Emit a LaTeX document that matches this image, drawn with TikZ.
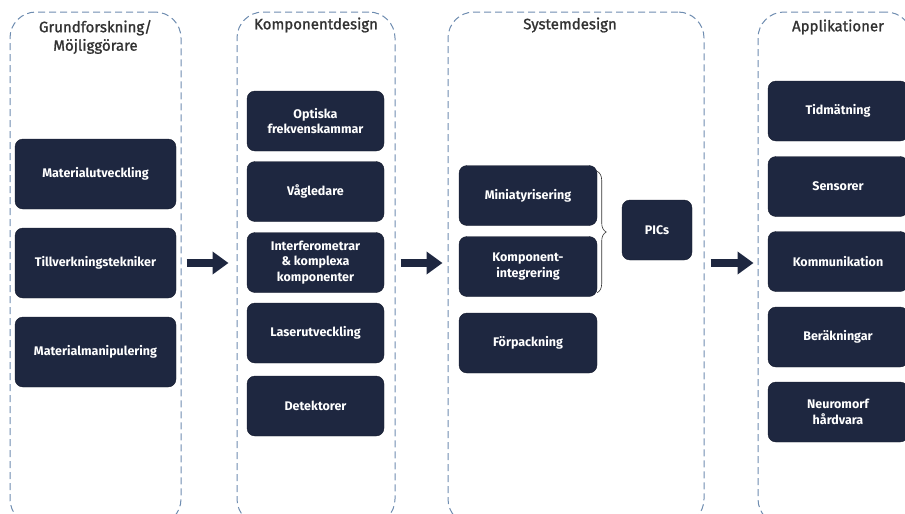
\documentclass[tikz,border=0pt]{standalone}
\usepackage{fontspec}
\setmainfont{Fira Sans}
\newfontfamily\medfont[FakeBold=1.3]{Fira Sans}
\usetikzlibrary{arrows.meta,decorations.pathreplacing}

\definecolor{navy}{RGB}{30,39,64}
\definecolor{dashblue}{RGB}{110,140,176}
\definecolor{ttlgray}{RGB}{50,50,50}

\tikzset{
  col/.style={draw=dashblue, dash pattern=on 7pt off 4pt, line width=1pt, rounded corners=26pt, inner sep=0pt},
  blk/.style={fill=navy, draw=navy!70!black, rounded corners=8pt, text=white, align=center,
    font=\bfseries\fontsize{12.5}{15.5}\selectfont, inner sep=0pt},
  ttl/.style={text=ttlgray, align=center, font=\medfont\fontsize{15}{18.5}\selectfont},
  flow/.style={draw=navy, line width=8pt, -{Triangle[length=16pt,width=22pt]}},
}

\begin{document}
\begin{tikzpicture}[x=1pt,y=1pt,yscale=-1]
\useasboundingbox (0,0) rectangle (905,514);

% columns
\node[col, minimum width=171pt, minimum height=513pt] (c1) at (95.5,268.5) {};
\node[col, minimum width=158pt, minimum height=513pt] (c2) at (316,268.5) {};
\node[col, minimum width=256pt, minimum height=513pt] (c3) at (576,268.5) {};
\node[col, minimum width=154pt, minimum height=513pt] (c4) at (835,268.5) {};

% titles
\node[ttl] (t1) at (95.5,37) {Grundforskning/\\Möjliggörare};
\node[ttl] (t2) at (316,25) {Komponentdesign};
\node[ttl] (t3) at (570,25) {Systemdesign};
\node[ttl] (t4) at (838,27) {Applikationer};

% Grundforskning
\node[blk, minimum width=161pt, minimum height=70pt] (mat) at (95.5,174) {Materialutveckling};
\node[blk, minimum width=161pt, minimum height=70pt] (till) at (95.5,263) {Tillverkningstekniker};
\node[blk, minimum width=161pt, minimum height=70pt] (mani) at (95.5,352) {Materialmanipulering};

% Komponentdesign
\node[blk, minimum width=137pt, minimum height=60pt] (opt) at (315.5,121) {Optiska\\frekvenskammar};
\node[blk, minimum width=137pt, minimum height=60pt] (vag) at (315.5,191.5) {Vågledare};
\node[blk, minimum width=137pt, minimum height=60pt] (intf) at (315.5,262.5) {Interferometrar\\\& komplexa\\komponenter};
\node[blk, minimum width=137pt, minimum height=60pt] (las) at (315.5,333) {Laserutveckling};
\node[blk, minimum width=137pt, minimum height=60pt] (det) at (315.5,406) {Detektorer};

% Systemdesign
\node[blk, minimum width=138pt, minimum height=60pt] (mini) at (528,195.5) {Miniatyrisering};
\node[blk, minimum width=138pt, minimum height=60pt] (komp) at (528,266.5) {Komponent-\\integrering};
\node[blk, minimum width=138pt, minimum height=60pt] (forp) at (528,343) {Förpackning};
\node[blk, minimum width=70pt, minimum height=60pt] (pic) at (657,230) {PICs};
\draw[ttlgray, line width=0.6pt, decorate, decoration={brace, amplitude=9pt}]
  ([yshift=6pt]mini.north east) -- ([yshift=-4pt]komp.south east);

% Applikationer
\node[blk, minimum width=140pt, minimum height=60pt] (tid) at (838,111) {Tidmätning};
\node[blk, minimum width=140pt, minimum height=60pt] (sen) at (838,186.5) {Sensorer};
\node[blk, minimum width=140pt, minimum height=60pt] (kom) at (838,261.5) {Kommunikation};
\node[blk, minimum width=140pt, minimum height=60pt] (ber) at (838,337) {Beräkningar};
\node[blk, minimum width=140pt, minimum height=60pt] (neu) at (838,412) {Neuromorf\\hårdvara};

% arrows
\draw[flow] ([xshift=5pt]c1.east |- till) -- ([xshift=-8pt]c2.west |- till);
\draw[flow] ([xshift=5pt]c2.east |- till) -- ([xshift=-5pt]c3.west |- till);
\draw[flow] ([xshift=6pt]c3.east |- till) -- ([xshift=-4pt]c4.west |- till);

\end{tikzpicture}
\end{document}
